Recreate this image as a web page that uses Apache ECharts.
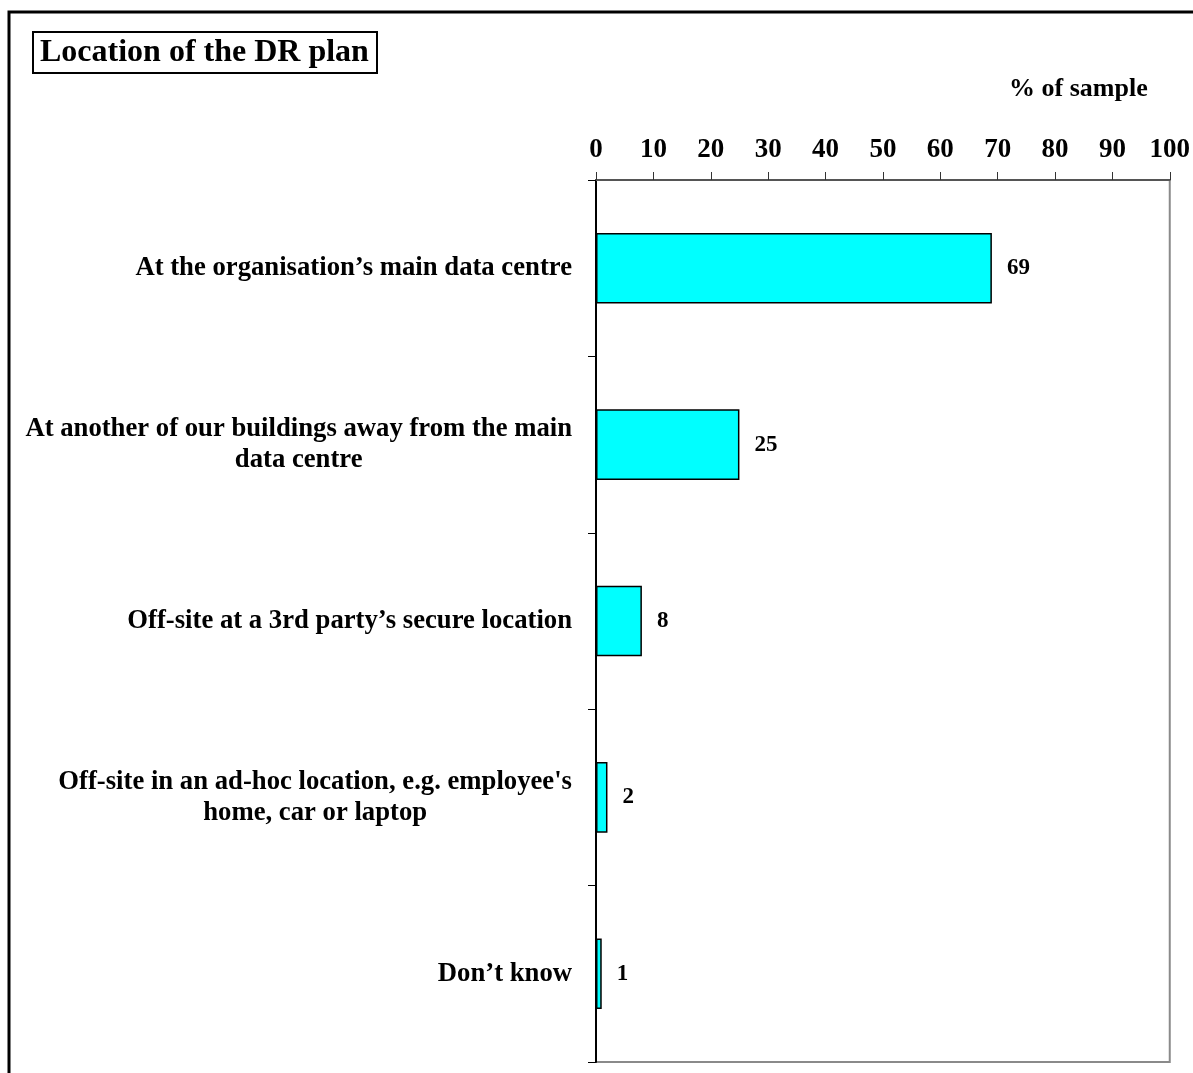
<!DOCTYPE html>
<html>
<head>
<meta charset="utf-8">
<script src="https://cdn.jsdelivr.net/npm/echarts@6/dist/echarts.min.js"></script>
<style>
  html, body { margin: 0; padding: 0; background: #fff; }
  #chart { width: 1193px; height: 1073px; }
</style>
</head>
<body>
<div id="chart"></div>
<script>
// Where organisations keep their disaster-recovery plan (% of sample)
const categories = [
  'At the organisation\u2019s main data centre',
  'At another of our buildings away from the main\ndata centre',
  'Off-site at a 3rd party\u2019s secure location',
  'Off-site in an ad-hoc location, e.g. employee\'s\nhome, car or laptop',
  'Don\u2019t know'
];
const shares = [69, 25, 8, 2, 1];
const axisMin = 0;
const axisMax = 100;
const axisStep = 10;

const FONT = '"Liberation Serif", "Times New Roman", serif';

const chart = echarts.init(document.getElementById('chart'));
chart.setOption({
  animation: false,
  backgroundColor: '#ffffff',
  title: {
    text: 'Location of the DR plan',
    left: 33,
    top: 32,
    padding: [5, 8, 4, 7],
    borderColor: '#000',
    borderWidth: 2,
    textStyle: { fontFamily: FONT, fontWeight: 'bold', fontSize: 32, color: '#000' }
  },
  graphic: [{
    type: 'rect',
    shape: { x: 9, y: 12, width: 1400, height: 1300 },
    style: { fill: null, stroke: '#000', lineWidth: 3 },
    silent: true
  }],
  grid: {
    left: 596, top: 180, right: 23, bottom: 11,
    show: true,
    borderColor: '#8a8a8a',
    borderWidth: 2,
    backgroundColor: 'transparent'
  },
  xAxis: {
    type: 'value',
    position: 'top',
    min: axisMin, max: axisMax, interval: axisStep,
    name: '% of sample',
    nameLocation: 'end',
    nameGap: 0,
    nameTextStyle: {
      fontFamily: FONT, fontWeight: 'bold', fontSize: 26, color: '#000',
      align: 'right', verticalAlign: 'bottom', padding: [0, 22, 78, 0]
    },
    axisLine: { show: true, lineStyle: { color: '#555', width: 2 } },
    axisTick: { show: true, inside: false, length: 8, lineStyle: { color: '#333', width: 1 } },
    axisLabel: { fontFamily: FONT, fontWeight: 'bold', fontSize: 27, color: '#000', margin: 16 },
    splitLine: { show: false }
  },
  yAxis: {
    type: 'category',
    inverse: true,
    data: categories,
    axisLine: { show: true, lineStyle: { color: '#000', width: 2 } },
    axisTick: { show: true, length: 8, alignWithLabel: false, lineStyle: { color: '#000', width: 1 } },
    axisLabel: {
      margin: 24,
      align: 'right',
      formatter: v => v.split('\n').map(l => '{c|' + l + '}').join('\n'),
      rich: {
        c: { align: 'center', fontFamily: FONT, fontWeight: 'bold', fontSize: 26.7, color: '#000', lineHeight: 31 }
      }
    }
  },
  series: [{
    type: 'bar',
    data: shares,
    barCategoryGap: '60%',
    itemStyle: { color: '#00ffff', borderColor: '#000', borderWidth: 1.5 },
    label: {
      show: true,
      position: 'right',
      distance: 15,
      fontFamily: FONT, fontWeight: 'bold', fontSize: 23, color: '#000'
    }
  }]
});
</script>
</body>
</html>
